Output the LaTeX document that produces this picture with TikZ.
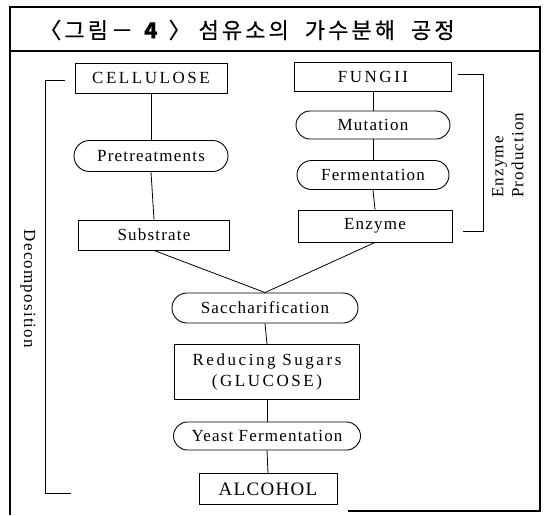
\documentclass[tikz,border=0pt]{standalone}
\usepackage{fontspec}
\setmainfont{Liberation Serif}
\newfontfamily\lowfont{Liberation Serif}[LetterSpace=7]
\newfontfamily\capfont{Liberation Serif}[LetterSpace=15]
\newfontfamily\kfont{Noto Sans CJK KR}[LetterSpace=14,FakeBold=0.6]
\usetikzlibrary{shapes.misc}
\tikzset{
  box/.style   ={draw,line width=0.9pt,inner sep=0pt,align=center,
                 font=\lowfont\fontsize{17}{19}\selectfont},
  pill/.style  ={box,rounded rectangle},
  capbox/.style={box,font=\capfont\fontsize{17}{19}\selectfont},
  link/.style  ={draw,line width=0.8pt},
  brk/.style   ={draw,line width=1pt},
  frm/.style   ={draw,line width=1.3pt},
  side/.style  ={font=\lowfont\fontsize{17}{20}\selectfont,align=left,inner sep=0pt},
}

\begin{document}
\begin{tikzpicture}[x=1pt,y=-1pt]
\useasboundingbox (0,0) rectangle (547,515);

% ===== frame and title ===================================================
\draw[frm] (10,515) -- (10,7) -- (540,7) -- (540,511) -- (348,511);
\draw[frm] (10,51) -- (540,51);
\node[font=\kfont\fontsize{22}{26}\selectfont,inner sep=0pt] (title) at (247,30)
  {〈그림－ \textbf{4} 〉\ 섬유소의\ \ 가수분해\ \ 공정};

% ===== cellulose side ====================================================
\node[capbox,minimum width=152pt,minimum height=30pt] (cell) at (151,78)  {CELLULOSE};
\node[pill,minimum width=154pt,minimum height=31pt]   (pre)  at (151,156) {Pretreatments};
\node[box,minimum width=151pt,minimum height=30pt]    (sub)  at (154,235) {Substrate};
\draw[link] (cell.south) -- (pre.north);
\draw[link] (pre.south) -- (sub.north);

% ===== enzyme side =======================================================
\node[capbox,minimum width=157pt,minimum height=29pt] (fun) at (373,77)  {FUNGII};
\node[pill,minimum width=154pt,minimum height=28pt]   (mut) at (373,125) {Mutation};
\node[pill,minimum width=152pt,minimum height=29pt]   (fer) at (373,175) {Fermentation};
\node[box,minimum width=154pt,minimum height=32pt]    (enz) at (375,226) {Enzyme};
\draw[link] (fun.south) -- (mut.north);
\draw[link] (mut.south) -- (fer.north);
\draw[link] (fer.south) -- (enz.north);

% ===== common chain ======================================================
\node[pill,minimum width=186pt,minimum height=30pt] (sac) at (265,308) {Saccharification};
\node[box,minimum width=185pt,minimum height=55pt,
      font=\capfont\fontsize{17}{21}\selectfont]    (red) at (267,372)
  {Reducing Sugars\\(GLUCOSE)};
\node[pill,minimum width=187pt,minimum height=28pt] (yst) at (267,436) {Yeast Fermentation};
\node[box,minimum width=138pt,minimum height=31pt,
      font=\lowfont\fontsize{19}{21}\selectfont]    (alc) at (268,489) {ALCOHOL};
\draw[link] (sub.south) -- (sac.north);
\draw[link] (enz.south) -- (sac.north);
\draw[link] (sac.south) -- (red.north);
\draw[link] (red.south) -- (yst.north);
\draw[link] (yst.south) -- (alc.north);

% ===== brackets ==========================================================
\coordinate (dtop) at (65,80);
\coordinate (dbot) at (71,493);
\draw[brk] (dtop) -- (45,80) -- (45,493) -- (dbot);
\node[side,rotate=-90] (dec) at (28,289) {Decomposition};

\coordinate (etop) at (458,74);
\coordinate (ebot) at (463,231);
\draw[brk] (etop) -- (483,74) -- (483,231) -- (ebot);
\node[side,rotate=90,anchor=north west] (ep) at (492,198) {Enzyme\\Production};
\end{tikzpicture}
\end{document}
